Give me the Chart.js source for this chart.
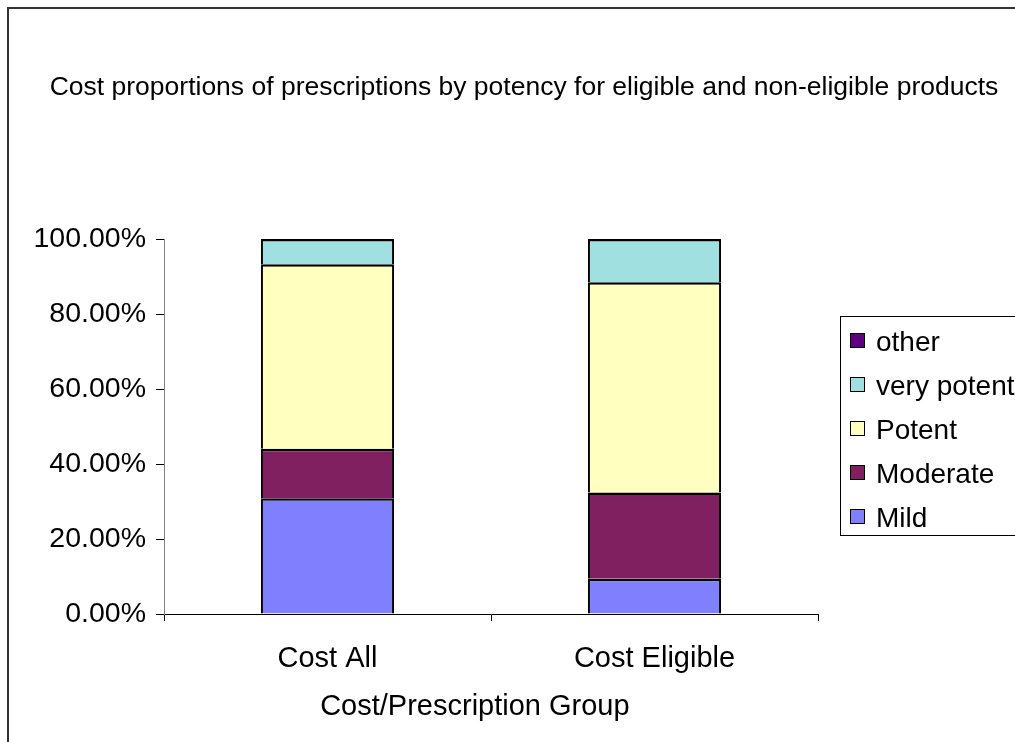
<!DOCTYPE html>
<html>
<head>
<meta charset="utf-8">
<title>Cost proportions</title>
<script src="https://cdn.jsdelivr.net/npm/chart.js@4/dist/chart.umd.min.js"></script>
<style>
  html, body { margin: 0; padding: 0; background: #fff; overflow: hidden; width: 1015px; height: 742px; }
  #frame {
    position: absolute; left: 7px; top: 7px;
    border-left: 2px solid #333; border-top: 2px solid #333;
    width: 1030px; height: 733px;
  }
  canvas { display: block; }
</style>
</head>
<body>
<div id="frame"><canvas id="costChart" width="1030" height="733"></canvas></div>
<script>
// categories and stacked shares (%)
const groups = ['Cost All', 'Cost Eligible'];
const mild = [30.9, 9.4];
const moderate = [13.2, 23.0];
const potent = [49.2, 56.1];
const veryPotent = [6.7, 11.5];
const other = [0, 0];

const seriesNames = ['Mild', 'Moderate', 'Potent', 'very potent', 'other'];
const seriesColors = ['#8080FF', '#802060', '#FFFFC0', '#A0E0E0', '#600080'];

const chartTitle = 'Cost proportions of prescriptions by potency for eligible and non-eligible products';

const FONT = '"Liberation Sans", Arial, Helvetica, sans-serif';

// heading across the whole canvas + bordered legend box on the right (top series first)
const headerAndLegend = {
    id: 'headerAndLegend',
    afterDraw(chart) {
        const ctx = chart.ctx;
        const area = chart.chartArea;

        ctx.save();
        ctx.fillStyle = '#000';
        ctx.font = '26.5px ' + FONT;
        ctx.textAlign = 'center';
        ctx.textBaseline = 'middle';
        ctx.fillText(chartTitle, chart.width / 2, 79);

        const left = area.right + 22;
        const top = area.top + 77;
        const rowH = 44;
        const sets = chart.data.datasets.slice().reverse();

        ctx.strokeStyle = '#000';
        ctx.lineWidth = 1;
        ctx.fillStyle = '#fff';
        ctx.fillRect(left + 0.5, top + 0.5, 260, rowH * sets.length - 1);
        ctx.strokeRect(left + 0.5, top + 0.5, 260, rowH * sets.length - 1);

        ctx.font = '28px ' + FONT;
        ctx.textAlign = 'left';
        sets.forEach(function(ds, i){
            const cy = top + 27 + i * rowH;
            ctx.fillStyle = ds.backgroundColor;
            ctx.fillRect(left + 10.5, cy - 9.5, 14, 14);
            ctx.strokeStyle = '#000';
            ctx.strokeRect(left + 10.5, cy - 9.5, 14, 14);
            ctx.fillStyle = '#000';
            ctx.fillText(ds.label, left + 36, cy);
        });
        ctx.restore();
    }
};

const datasets = [mild, moderate, potent, veryPotent, other].map(function(values, i){
    return {
        label: seriesNames[i],
        data: values,
        backgroundColor: seriesColors[i],
        borderColor: '#000',
        // one dark rule between stacked segments, drawn as each segment's top edge
        borderWidth: {left: 2, right: 2, top: 2.5, bottom: 0},
        borderSkipped: false,
        categoryPercentage: 1,
        barPercentage: 0.407
    };
});

const ctx = document.getElementById('costChart').getContext('2d');
const costChart = new Chart(ctx, {
    type: 'bar',
    data: {
        labels: groups,
        datasets: datasets
    },
    options: {
        responsive: false,
        animation: false,
        layout: {
            padding: {top: 230, left: 0, right: 221, bottom: 0}
        },
        scales: {
            x: {
                stacked: true,
                grid: {
                    drawOnChartArea: false,
                    tickLength: 7,
                    color: '#000'
                },
                border: {color: '#000', width: 1},
                ticks: {
                    color: '#000',
                    padding: 21,
                    font: {family: FONT, size: 29}
                },
                title: {
                    display: true,
                    // trailing spaces nudge the centred title a little left
                    text: 'Cost/Prescription Group'.padEnd(27, ' '),
                    color: '#000',
                    font: {family: FONT, size: 29},
                    padding: {top: 12, bottom: 18}
                },
                afterFit: function(scale){ scale.height = 128; }
            },
            y: {
                stacked: true,
                min: 0,
                max: 100,
                grid: {
                    drawOnChartArea: false,
                    tickLength: 8,
                    color: '#000'
                },
                border: {color: '#808080', width: 1},
                ticks: {
                    stepSize: 20,
                    color: '#000',
                    padding: 10,
                    font: {family: FONT, size: 28.5},
                    callback: function(v){ return v.toFixed(2) + '%'; }
                },
                afterFit: function(scale){ scale.width = 155; }
            }
        },
        plugins: {
            legend: {display: false},
            tooltip: {enabled: false},
            title: {display: false}
        }
    },
    plugins: [headerAndLegend]
});
</script>
</body>
</html>
